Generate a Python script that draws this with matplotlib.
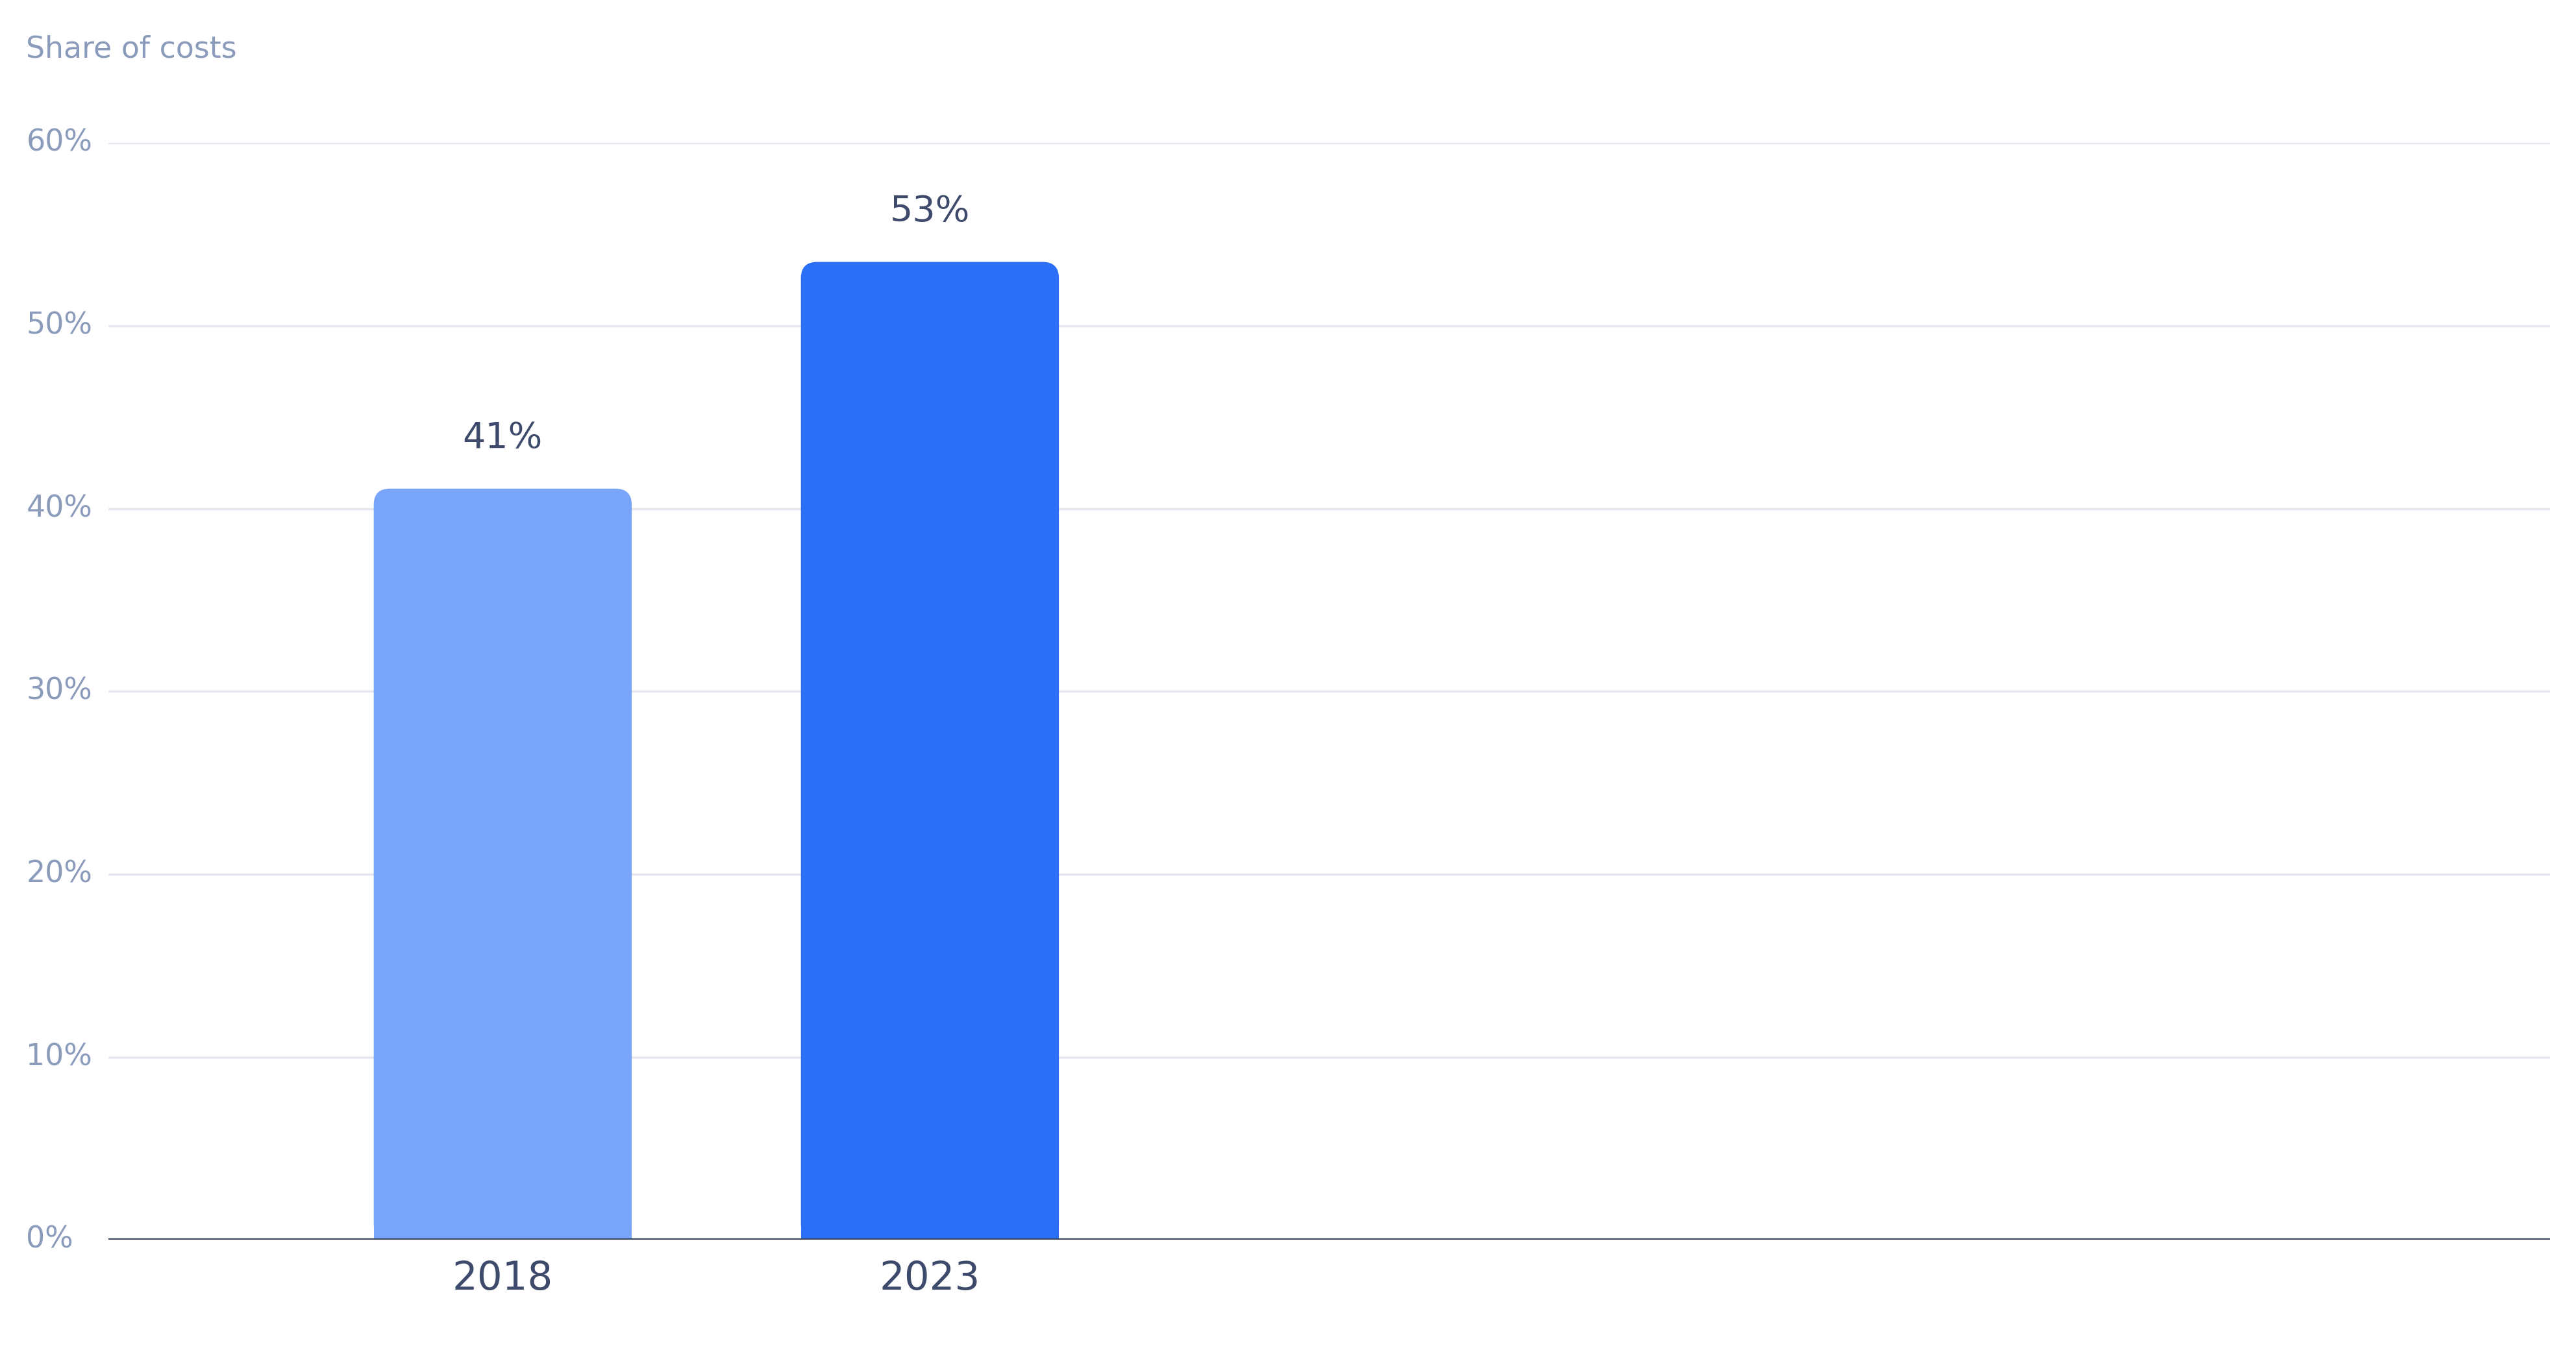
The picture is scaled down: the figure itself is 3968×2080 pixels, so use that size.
import matplotlib.pyplot as plt
import matplotlib.transforms as mtransforms
from matplotlib.patches import FancyBboxPatch, Rectangle

years = ["2018", "2023"]
shares = [41.1, 53.5]
labels = ["41%", "53%"]
colors = ["#78A4F9", "#2A6FF5"]
yticks = [0, 10, 20, 30, 40, 50, 60]

fig = plt.figure(figsize=(39.68, 20.8), dpi=100)
ax = fig.add_axes([0.0421, 0.0815, 0.9477, 0.8125])
ax.set_xlim(-0.923, 4.792)
ax.set_ylim(0, 60)

w = 0.604
r = 0.038
asp = 23.4
for i, (v, c, lab) in enumerate(zip(shares, colors, labels)):
    ax.add_patch(FancyBboxPatch((i - w / 2, 0), w, v,
                                boxstyle=f"round,pad=0,rounding_size={r}",
                                mutation_aspect=asp, fc=c, ec="none", zorder=3))
    ax.add_patch(Rectangle((i - w / 2, 0), w, v / 2, fc=c, ec="none", zorder=3))
    ax.text(i, v + 1.8, lab, ha="center", va="bottom", fontsize=40, color="#3D4A6B")

for t in yticks[1:]:
    ax.axhline(t, color="#E6E8F0", lw=2.5, zorder=1)
ax.axhline(0, color="#3A4560", lw=3, zorder=4)

for s in ax.spines.values():
    s.set_visible(False)
ax.set_yticks([])
ax.set_xticks(range(len(years)))
ax.set_xticklabels(years, fontsize=44, color="#3D4A6B")
ax.tick_params(axis="x", length=0, pad=22)

trans = mtransforms.blended_transform_factory(fig.transFigure, ax.transData)
for t in yticks:
    ax.text(0.0102, t, f"{t}%", transform=trans, ha="left", va="center",
            fontsize=33, color="#8A9BBB")

fig.text(0.0102, 0.9635, "Share of costs", ha="left", va="center",
         fontsize=33, color="#8A9BBB")

fig.savefig("out.png", dpi=100)
